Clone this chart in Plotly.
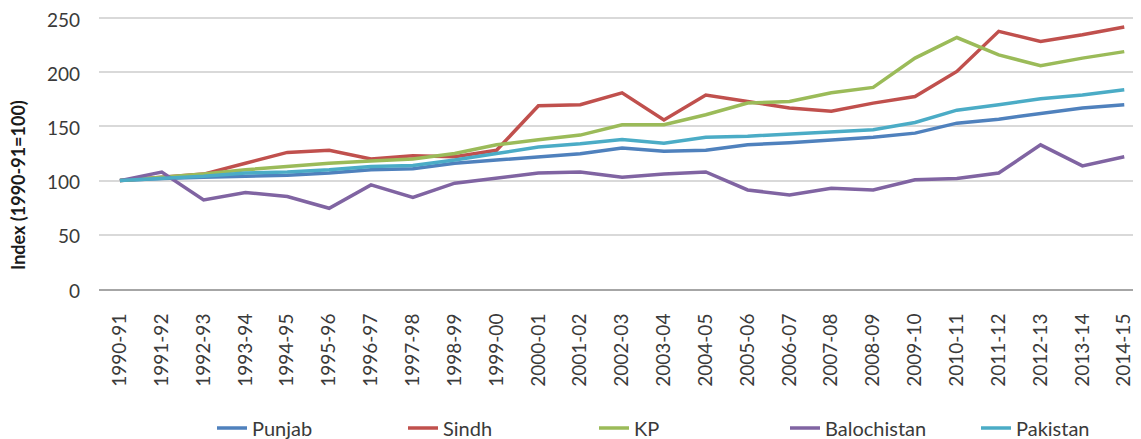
import plotly.graph_objects as go

years = ["1990-91", "1991-92", "1992-93", "1993-94", "1994-95", "1995-96", "1996-97",
         "1997-98", "1998-99", "1999-00", "2000-01", "2001-02", "2002-03", "2003-04",
         "2004-05", "2005-06", "2006-07", "2007-08", "2008-09", "2009-10", "2010-11",
         "2011-12", "2012-13", "2013-14", "2014-15"]

punjab = [100, 102, 103, 104, 105, 107, 110, 111, 116, 119, 121.6, 124.7, 130, 127, 128,
          133, 135, 137.6, 140, 143.8, 153, 156.7, 162, 167, 170]
sindh = [100, 103, 106, 116, 126, 128, 120, 123, 122, 128, 169, 170, 181, 156, 179,
         173, 167, 164, 171.5, 177.6, 200.7, 237.7, 228.4, 234.6, 241.7]
kp = [100, 103, 106, 110, 113, 116, 118, 120, 125, 133, 137.6, 142, 151.5, 151.5, 160.7,
      171.5, 173, 181, 186, 213, 232, 216, 206, 213, 219]
balochistan = [100, 107.8, 82.2, 89, 85.3, 74.5, 96, 84.5, 97.6, 102, 107, 108, 103, 106,
               108, 91.4, 86.8, 93, 91.4, 100.7, 102, 107, 133, 113.6, 122]
pakistan = [100, 102, 104, 107, 108, 110, 113, 114, 119, 125, 131, 134, 138, 134.5, 140,
            141, 143, 145, 147, 153.6, 165, 170, 175.5, 179, 183.8]
y_ticks = [0, 50, 100, 150, 200, 250]

series = [
    ("Punjab", punjab, "#4F81BD"),
    ("Sindh", sindh, "#C0504D"),
    ("KP", kp, "#9BBB59"),
    ("Balochistan", balochistan, "#8064A2"),
    ("Pakistan", pakistan, "#4BACC6"),
]

FONT = "Lato, 'Open Sans', 'DejaVu Sans', sans-serif"
TXT = "#3A3A3A"

fig = go.Figure()
for name, vals, col in series:
    fig.add_trace(go.Scatter(x=years, y=vals, name=name, mode="lines",
                             line=dict(color=col, width=3.5)))

# the page body adds an 8px offset; size the figure to the visible area
OFF = 8
W, H = 1141 - OFF, 439 - OFF
PB = 289 - OFF            # y=0 in figure px
PX_PER_UNIT = 271 / 250   # measured scale
YMAX = 253.7              # a little headroom so the 250 grid line is kept
T = round(PB - YMAX * PX_PER_UNIT)
L = 99 - OFF
R, B = 0, H - PB
pw = W - L - R
ph = PB - T

fig.update_layout(
    width=W, height=H,
    margin=dict(l=L, r=R, t=T, b=B, pad=0, autoexpand=False),
    paper_bgcolor="white", plot_bgcolor="white",
    font=dict(family=FONT, size=19, color=TXT),
    showlegend=True,
    legend=dict(orientation="h", x=(212 - OFF - L) / pw, xanchor="left",
                y=(PB - (428 - OFF)) / ph, yanchor="middle",
                font=dict(family=FONT, size=20, color=TXT),
                entrywidth=146, entrywidthmode="pixels",
                tracegroupgap=0, bgcolor="rgba(0,0,0,0)"),
    xaxis=dict(type="category", range=[-0.5, 24.4], tickangle=-90,
               automargin=False,
               showgrid=False, showline=True, linecolor="#A6A6A6", linewidth=2,
               ticks="", ticklabelstandoff=15, ticklabeloverflow="allow",
               tickfont=dict(family=FONT, size=19, color=TXT), fixedrange=True),
    yaxis=dict(range=[0, YMAX], tickmode="array", tickvals=y_ticks,
               showgrid=True, gridcolor="#D9D9D9",
               automargin=False,
               gridwidth=1.5, zeroline=False, showline=False, ticks="",
               ticklabelstandoff=18, ticklabelshift=2, ticklabeloverflow="allow",
               tickfont=dict(family=FONT, size=19, color=TXT), fixedrange=True),
    annotations=[dict(text="<b>Index (1990-91=100)</b>", textangle=-90,
                      xref="paper", yref="paper",
                      x=(18 - OFF - L) / pw, y=(PB - (185 - OFF)) / ph,
                      xanchor="center", yanchor="middle", showarrow=False,
                      font=dict(family=FONT, size=18, color="#1A1A1A"))],
)

fig.write_html("out.html")
